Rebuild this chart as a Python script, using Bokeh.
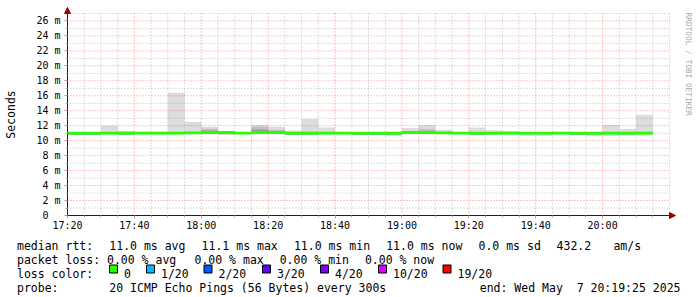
import re
import math
import pandas as pd
from bokeh.plotting import figure
from bokeh.models import (Range1d, FixedTicker, DatetimeTickFormatter, Label,
                          Arrow, NormalHead, BoxAnnotation, ColumnDataSource)
from bokeh.embed import file_html
from bokeh.resources import INLINE

# ---------------- data ----------------
start_time = "2025-05-07 17:20"
end_time = "2025-05-07 20:20"
step_minutes = 5

median_ms = [11.00, 11.00, 11.00, 11.00, 11.00, 11.00, 11.00, 11.05, 11.10, 11.10,
             11.00, 11.10, 11.10, 11.00, 11.00, 11.00, 11.00, 11.00, 11.00, 11.00,
             11.10, 11.10, 11.05, 11.00, 11.00, 11.00, 11.00, 11.00, 11.00, 11.00,
             11.00, 11.00, 11.00, 11.00, 11.00]
outer_hi = [11.10, 11.10, 12.00, 11.30, 11.05, 11.20, 16.40, 12.50, 11.85, 11.30,
            11.05, 12.10, 11.85, 11.35, 12.90, 11.75, 11.05, 11.10, 11.10, 11.10,
            11.70, 12.10, 11.45, 11.05, 11.75, 11.40, 11.30, 11.10, 11.10, 11.05,
            11.10, 11.10, 12.10, 11.55, 13.45]
outer_lo = [10.80, 10.80, 10.85, 10.75, 10.90, 10.85, 10.85, 10.85, 10.85, 10.85,
            10.90, 10.85, 10.85, 10.80, 10.80, 10.85, 10.90, 10.75, 10.75, 10.60,
            10.85, 10.85, 10.85, 10.90, 10.75, 10.80, 10.80, 10.65, 10.65, 10.90,
            10.75, 10.60, 10.60, 10.70, 10.70]
mid_hi = [11.05, 11.05, 11.10, 11.20, 11.00, 11.05, 11.15, 11.15, 11.60, 11.30,
          11.00, 11.85, 11.45, 11.15, 11.20, 11.15, 11.00, 11.05, 11.05, 11.05,
          11.20, 11.55, 11.15, 11.00, 11.15, 11.10, 11.10, 11.05, 11.05, 11.00,
          11.05, 11.05, 11.15, 11.10, 11.15]
mid_lo = [10.80, 10.80, 10.90, 10.80, 10.90, 10.90, 10.90, 10.90, 10.90, 10.85,
          10.90, 10.90, 10.90, 10.80, 10.85, 10.90, 10.90, 10.80, 10.80, 10.75,
          10.90, 10.90, 10.90, 10.90, 10.80, 10.85, 10.85, 10.80, 10.80, 10.90,
          10.80, 10.75, 10.80, 10.80, 10.85]
inner_hi = [11.00, 11.00, 11.05, 11.05, 11.00, 11.00, 11.05, 11.05, 11.35, 11.15,
            11.00, 11.50, 11.20, 11.05, 11.05, 11.05, 11.00, 11.00, 11.00, 11.00,
            11.10, 11.30, 11.05, 11.00, 11.05, 11.05, 11.00, 11.00, 11.00, 11.00,
            11.00, 11.00, 11.05, 11.05, 11.05]
inner_lo = [10.78, 10.78, 10.92, 10.78, 10.92, 10.92, 10.92, 10.92, 10.95, 10.85,
            10.92, 10.95, 10.92, 10.78, 10.80, 10.92, 10.92, 10.78, 10.78, 10.85,
            10.92, 10.95, 10.92, 10.92, 10.78, 10.85, 10.90, 10.90, 10.90, 10.92,
            10.78, 10.85, 10.88, 10.85, 10.88]

y_top = 27
y_ticks = [0, 2, 4, 6, 8, 10, 12, 14, 16, 18, 20, 22, 24, 26]
y_minor = [1, 3, 5, 7, 9, 11, 13, 15, 17, 19, 21, 23, 25, 27]
x_major_minutes = 20

rtt_avg, rtt_max, rtt_min, rtt_now, rtt_sd, am_s = 11.0, 11.1, 11.0, 11.0, 0.0, 432.2
loss_avg, loss_max, loss_min, loss_now = 0.00, 0.00, 0.00, 0.00
loss_labels = ["0", "1/20", "2/20", "3/20", "4/20", "10/20", "19/20"]
loss_colors = ["#26ff00", "#00b8ff", "#0059ff", "#5e00ff", "#7e00ff", "#dd00ff", "#ff0000"]
probe_text = "20 ICMP Echo Pings (56 Bytes) every 300s"
end_text = "end: Wed May  7 20:19:25 2025"

# ---------------- layout constants (canvas px) ----------------
W, H = 697, 297
FL, FR, FT, FB = 67, 669, 13, 215   # chart area
MONO = "DejaVu Sans Mono"

t0 = pd.Timestamp(start_time)
t1 = pd.Timestamp(end_time)
step = pd.Timedelta(minutes=step_minutes)
n = len(median_ms)
lefts = [t0 + i * step for i in range(n)]
rights = [l + step for l in lefts]

ms = lambda ts: ts.value // 10**6
t0_ms, t1_ms = ms(t0), ms(t1)
# the frame covers the whole canvas; the chart area (t0..t1, 0..y_top)
# sits at FL..FR / FT..FB and the axes are pinned to its edges
px_x = (t1_ms - t0_ms) / (FR - FL)
px_y = y_top / (FB - FT)
x_rng = Range1d(t0_ms - FL * px_x, t1_ms + (W - FR) * px_x)
y_rng = Range1d(-(H - FB) * px_y, y_top + FT * px_y)

src = ColumnDataSource(dict(left=lefts, right=rights,
                            ohi=outer_hi, olo=outer_lo,
                            mhi=mid_hi, mlo=mid_lo,
                            ihi=inner_hi, ilo=inner_lo))

p = figure(width=W, height=H, x_axis_type="datetime",
           x_range=x_rng, y_range=y_rng,
           output_backend="svg", toolbar_location=None, title=None,
           min_border=0, min_border_left=0, min_border_right=0,
           min_border_top=0, min_border_bottom=0)
p.background_fill_color = "white"
p.border_fill_color = "white"
p.outline_line_color = None
p.xgrid.visible = False
p.ygrid.visible = False

# smoke
p.quad(left="left", right="right", bottom="olo", top="ohi", source=src,
       fill_color="#dddddd", line_color=None)
p.quad(left="left", right="right", bottom="mlo", top="mhi", source=src,
       fill_color="#c0c0c0", line_color=None)
p.quad(left="left", right="right", bottom="ilo", top="ihi", source=src,
       fill_color="#9c9c9c", line_color=None)

# ticks
total_min = int((t1 - t0).total_seconds() // 60)
x_major = [ms(t0 + pd.Timedelta(minutes=m)) for m in range(0, total_min, x_major_minutes)]
x_minor = [ms(t0 + pd.Timedelta(minutes=m)) for m in range(0, total_min + 1, step_minutes)]

# dotted grid, drawn over the smoke
gx_min = [x for x in x_minor if x not in x_major]
gx_maj = [x for x in x_major if x != t0_ms]
gy_min = list(y_minor)
gy_maj = [y for y in y_ticks if y != 0]
grid_minor = dict(line_color="#8c8c8c", line_alpha=0.55, line_dash="1 2", line_width=1,
                  level="annotation")
grid_major = dict(line_color="#ff0000", line_alpha=0.45, line_dash="1 2", line_width=1,
                  level="annotation")
p.segment(x0=gx_min, x1=gx_min, y0=[0] * len(gx_min), y1=[y_top] * len(gx_min), **grid_minor)
p.segment(x0=[t0_ms] * len(gy_min), x1=[t1_ms] * len(gy_min), y0=gy_min, y1=gy_min, **grid_minor)
p.segment(x0=gx_maj, x1=gx_maj, y0=[0] * len(gx_maj), y1=[y_top] * len(gx_maj), **grid_major)
p.segment(x0=[t0_ms] * len(gy_maj), x1=[t1_ms] * len(gy_maj), y0=gy_maj, y1=gy_maj, **grid_major)

# median line
step_x = lefts + [rights[-1]]
step_y = median_ms + [median_ms[-1]]
p.step(x=step_x, y=step_y, mode="after", line_color="#26ff00", line_width=2.8,
       level="overlay")

# axes pinned to the chart area
p.xaxis.ticker = FixedTicker(ticks=x_major, minor_ticks=x_minor)
p.xaxis.formatter = DatetimeTickFormatter(seconds="%H:%M", minsec="%H:%M", minutes="%H:%M",
                                          hourmin="%H:%M", hours="%H:%M", days="%H:%M")
p.xaxis.bounds = (t0_ms, t1_ms)
p.xaxis.fixed_location = 0
p.yaxis.ticker = FixedTicker(ticks=y_ticks, minor_ticks=y_minor)
p.yaxis.bounds = (0, y_top)
p.yaxis.fixed_location = t0_ms
p.yaxis.major_label_overrides = {t: ("%d m" % t if t else "0\u00a0\u00a0") for t in y_ticks}

for ax in (p.xaxis[0], p.yaxis[0]):
    ax.axis_line_color = "#202020"
    ax.axis_line_width = 1
    ax.major_label_text_font = MONO
    ax.major_label_text_font_size = "10px"
    ax.major_label_text_color = "#000000"
    ax.major_tick_in = 0
    ax.minor_tick_in = 0
    ax.major_tick_out = 3
    ax.minor_tick_out = 2
    ax.major_tick_line_color = "#e08c8c"
    ax.minor_tick_line_color = "#b4b4b4"

p.xaxis.major_label_standoff = 1
p.yaxis.major_label_standoff = 4
p.yaxis.axis_label = "Seconds"
p.yaxis.axis_label_text_font = MONO
p.yaxis.axis_label_text_font_size = "11.5px"
p.yaxis.axis_label_text_font_style = "normal"
p.yaxis.axis_label_text_color = "#000000"
p.yaxis.axis_label_standoff = 15

# screen units are measured from the frame's bottom-left = canvas bottom-left
def sx(cx):
    return cx

def sy(cy):
    return H - cy

# arrows on the axes
arrow_col = "#a00000"
p.add_layout(Arrow(end=NormalHead(size=6, fill_color=arrow_col, line_color=arrow_col),
                   x_start=sx(FL), y_start=sy(FT + 1), x_end=sx(FL), y_end=sy(FT - 6),
                   start_units="screen", end_units="screen", line_alpha=0))
p.add_layout(Arrow(end=NormalHead(size=6, fill_color=arrow_col, line_color=arrow_col),
                   x_start=sx(FR - 1), y_start=sy(FB), x_end=sx(FR + 6), y_end=sy(FB),
                   start_units="screen", end_units="screen", line_alpha=0))

def add_text(cx, cy, text, align="left", size="11.5px", color="#000000", angle=0.0,
             baseline="alphabetic"):
    p.add_layout(Label(x=sx(cx), y=sy(cy), x_units="screen", y_units="screen",
                       text=text, text_font=MONO, text_font_size=size,
                       text_color=color, text_align=align, text_baseline=baseline,
                       angle=angle))

# side watermark
add_text(688, 12, "RRDTOOL / TOBI OETIKER", size="7.8px", color="#a8a8a8",
         angle=-math.pi / 2, baseline="middle")

# legend rows on a monospace column grid
COL0, CW = 16.5, 7.1
rows = [
    ("median rtt:  %.1f ms avg  %.1f ms max  %.1f ms min  %.1f ms now  %.1f ms sd  %.1f   am/s"
     % (rtt_avg, rtt_max, rtt_min, rtt_now, rtt_sd, am_s), 245),
    ("packet loss: %.2f %% avg  %.2f %% max  %.2f %% min  %.2f %% now"
     % (loss_avg, loss_max, loss_min, loss_now), 259),
    ("loss color:", 273),
    ("probe:       " + probe_text, 287),
]
for text, base in rows:
    for m in re.finditer(r"\S+(?: \S+)*", text):
        add_text(COL0 + m.start() * CW, base, m.group(0))
# keep the double space of the date visible in SVG text
add_text(680, 287, end_text.replace("  ", "\u00a0 "), align="right")

square_x = [109, 146, 203.5, 262, 320, 378, 442.5]
sq_w = 8
for qx, lab, col in zip(square_x, loss_labels, loss_colors):
    p.add_layout(BoxAnnotation(left=sx(qx), right=sx(qx + sq_w), bottom=sy(272.5), top=sy(264.5),
                               left_units="screen", right_units="screen",
                               bottom_units="screen", top_units="screen",
                               fill_color=col, fill_alpha=1.0,
                               line_color="#000000", line_width=1, line_alpha=1.0,
                               level="overlay"))
    add_text(qx + 14.5, 273, lab)

open("out.html", "w").write(file_html(p, INLINE))
